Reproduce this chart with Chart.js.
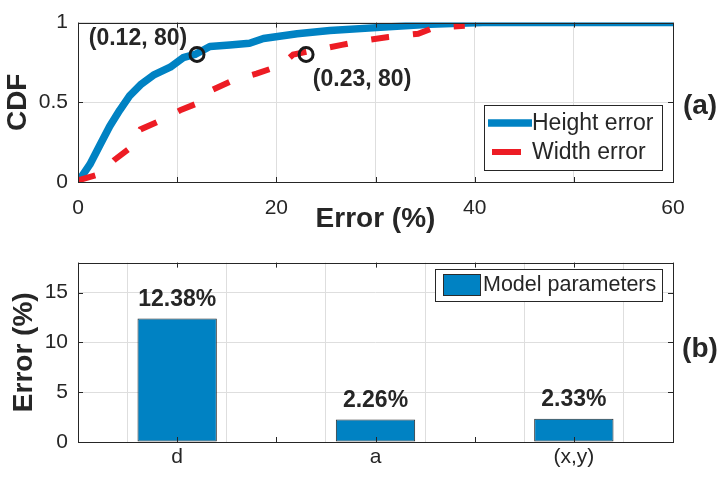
<!DOCTYPE html>
<html>
<head>
<meta charset="utf-8">
<script src="https://cdn.jsdelivr.net/npm/chart.js@4.4.0/dist/chart.umd.min.js"></script>
<style>
  html, body { margin: 0; padding: 0; background: #fff; }
  #wrap { position: relative; width: 718px; height: 485px; }
  #cdfC { position: absolute; left: 0; top: 0; }
  #barC { position: absolute; left: 0; top: 240px; }
</style>
</head>
<body>
<div id="wrap">
  <canvas id="cdfC" width="718" height="240"></canvas>
  <canvas id="barC" width="718" height="245"></canvas>
</div>
<script>
/* ── data: panel (a), CDF of height / width error ─────────────────────── */
const heightX = [0, 1.2, 2.2, 3.2, 4.2, 5.2, 6.3, 7.6, 9.3, 10.6, 11.8, 13.3, 15.3, 17.3, 18.7, 22.1, 25.4, 30.5, 35.5, 40.8, 60];
const heightY = [0, 0.11, 0.23, 0.35, 0.45, 0.54, 0.61, 0.67, 0.72, 0.78, 0.80, 0.85, 0.86, 0.87, 0.90, 0.93, 0.95, 0.97, 0.99, 1.0, 1.0];

const widthX = [0, 2.2, 3.7, 5.4, 6.3, 8.1, 10.3, 12.3, 13.6, 15.7, 18.0, 20.4, 21.7, 24.1, 26.6, 29.1, 31.3, 34.3, 36.0, 39.0];
const widthY = [0.01, 0.05, 0.14, 0.22, 0.33, 0.38, 0.45, 0.50, 0.58, 0.64, 0.68, 0.73, 0.80, 0.83, 0.86, 0.89, 0.91, 0.93, 0.97, 0.98];

const markX    = [12, 23];
const markY    = [0.8, 0.8];
const markText = ['(0.12, 80)', '(0.23, 80)'];

const cdfXTicks  = [0, 10, 20, 30, 40, 50, 60];
const cdfXLabels = [0, 20, 40, 60];
const cdfYTicks  = [0, 0.5, 1];

/* ── data: panel (b), model parameter error ───────────────────────────── */
const barCats   = ['d', 'a', '(x,y)'];
const barVals   = [12.38, 2.26, 2.33];
const barXTicks = [0.5, 1, 1.5, 2, 2.5, 3, 3.5];
const barYTicks = [0, 5, 10, 15];

/* ── style ────────────────────────────────────────────────────────────── */
const BLUE = '#0082C3';
const RED  = '#ED1C24';
const INK  = '#262626';
const GRID = '#dedede';
const FONT = '"Liberation Sans", Arial, Helvetica, sans-serif';

Chart.defaults.font.family = FONT;
Chart.defaults.color = INK;

/* box round the plot area with short inward ticks, as MATLAB draws it */
const framePlugin = {
  id: 'frame',
  afterDraw(chart) {
    const { ctx, chartArea: ca, scales } = chart;
    const tl = 5;
    ctx.save();
    ctx.strokeStyle = INK;
    ctx.lineWidth = 1;
    ctx.beginPath();
    scales.x.ticks.forEach(t => {
      const px = Math.round(scales.x.getPixelForValue(t.value)) + 0.5;
      ctx.moveTo(px, ca.bottom); ctx.lineTo(px, ca.bottom - tl);
      ctx.moveTo(px, ca.top);    ctx.lineTo(px, ca.top + tl);
    });
    scales.y.ticks.forEach(t => {
      const py = Math.round(scales.y.getPixelForValue(t.value)) + 0.5;
      ctx.moveTo(ca.left, py);  ctx.lineTo(ca.left + tl, py);
      ctx.moveTo(ca.right, py); ctx.lineTo(ca.right - tl, py);
    });
    ctx.stroke();
    ctx.strokeRect(Math.round(ca.left) + 0.5, Math.round(ca.top) + 0.5,
                   Math.round(ca.right - ca.left), Math.round(ca.bottom - ca.top));
    ctx.restore();
  }
};

function panelLabel(ctx, txt, x, y) {
  ctx.save();
  ctx.font = 'bold 28px ' + FONT;
  ctx.fillStyle = INK;
  ctx.textAlign = 'center';
  ctx.textBaseline = 'middle';
  ctx.fillText(txt, x, y);
  ctx.restore();
}

/* ── panel (a) extras: point notes, legend, label ─────────────────────── */
const cdfExtras = {
  id: 'cdfExtras',
  afterDraw(chart) {
    const { ctx, scales: { x, y } } = chart;
    const offs = [[-59, -16], [56, 25]];
    ctx.save();
    ctx.font = 'bold 23px ' + FONT;
    ctx.fillStyle = INK;
    ctx.textAlign = 'center';
    ctx.textBaseline = 'middle';
    markText.forEach((t, i) => {
      ctx.fillText(t, x.getPixelForValue(markX[i]) + offs[i][0], y.getPixelForValue(markY[i]) + offs[i][1]);
    });
    ctx.restore();

    /* legend box */
    const bx = 484, by = 105, bw = 178, bh = 65;
    ctx.save();
    ctx.fillStyle = '#fff';
    ctx.fillRect(bx, by, bw, bh);
    ctx.strokeStyle = INK;
    ctx.lineWidth = 1;
    ctx.strokeRect(bx + 0.5, by + 0.5, bw, bh);
    const rows = [by + 18, by + 47];
    chart.data.datasets.slice(0, 2).forEach((ds, i) => {
      ctx.strokeStyle = ds.borderColor;
      ctx.lineWidth = ds.borderWidth;
      ctx.lineCap = 'butt';
      ctx.beginPath();
      if (ds.borderDash) { ctx.moveTo(bx + 8, rows[i]); ctx.lineTo(bx + 37, rows[i]); }
      else { ctx.moveTo(bx + 4, rows[i]); ctx.lineTo(bx + 48, rows[i]); }
      ctx.stroke();
      ctx.font = '23px ' + FONT;
      ctx.fillStyle = INK;
      ctx.textBaseline = 'middle';
      ctx.textAlign = 'left';
      ctx.fillText(ds.label, bx + 48, rows[i] + 1);
    });
    ctx.restore();

    panelLabel(ctx, '(a)', 700, 106);
  }
};

new Chart(document.getElementById('cdfC'), {
  type: 'line',
  data: {
    datasets: [
      {
        label: 'Height error',
        data: heightX.map((v, i) => ({ x: v, y: heightY[i] })),
        borderColor: BLUE, borderWidth: 7.5, pointRadius: 0, tension: 0,
        borderJoinStyle: 'round', order: 2
      },
      {
        label: 'Width error',
        data: widthX.map((v, i) => ({ x: v, y: widthY[i] })),
        borderColor: RED, borderWidth: 6, borderDash: [18, 24], borderCapStyle: 'butt',
        pointRadius: 0, tension: 0, order: 1
      },
      {
        label: 'marks',
        data: markX.map((v, i) => ({ x: v, y: markY[i] })),
        showLine: false, pointRadius: 7, pointBorderWidth: 3,
        pointBorderColor: '#1a1a1a', pointBackgroundColor: 'rgba(0,0,0,0)', order: 0
      }
    ]
  },
  options: {
    responsive: false,
    animation: false,
    layout: { padding: { top: 13, right: 45, left: 0, bottom: 0 } },
    plugins: { legend: { display: false }, tooltip: { enabled: false } },
    scales: {
      x: {
        type: 'linear', min: 0, max: 60,
        afterBuildTicks: s => { s.ticks = cdfXTicks.map(v => ({ value: v })); },
        afterFit: s => { s.height = 58; },
        ticks: {
          autoSkip: false, maxRotation: 0, padding: 14,
          font: { size: 21 }, color: INK,
          callback: v => cdfXLabels.includes(v) ? String(v) : ''
        },
        grid: { color: GRID, drawTicks: false },
        border: { display: false },
        title: { display: true, text: 'Error (%)', color: INK, font: { size: 28, weight: 'bold' }, padding: { top: 0, bottom: 4 } }
      },
      y: {
        min: 0, max: 1,
        afterBuildTicks: s => { s.ticks = cdfYTicks.map(v => ({ value: v })); },
        afterFit: s => { s.width = 78; },
        ticks: { padding: 10, font: { size: 21 }, color: INK, callback: v => String(v) },
        grid: { color: GRID, drawTicks: false },
        border: { display: false },
        title: { display: true, text: 'CDF', color: INK, font: { size: 28, weight: 'bold' }, padding: { top: 1, bottom: 0 } }
      }
    }
  },
  plugins: [framePlugin, cdfExtras]
});

/* ── panel (b) extras: value labels, legend, label ────────────────────── */
const barExtras = {
  id: 'barExtras',
  afterDraw(chart) {
    const { ctx } = chart;
    const meta = chart.getDatasetMeta(0);
    ctx.save();
    ctx.font = 'bold 23px ' + FONT;
    ctx.fillStyle = INK;
    ctx.textAlign = 'center';
    ctx.textBaseline = 'middle';
    meta.data.forEach((el, i) => {
      ctx.fillText(barVals[i].toFixed(2) + '%', el.x, el.y - 19);
    });

    const bx = 435, by = 29, bw = 227, bh = 32;
    ctx.fillStyle = '#fff';
    ctx.fillRect(bx, by, bw, bh);
    ctx.strokeStyle = INK;
    ctx.lineWidth = 1;
    ctx.strokeRect(bx + 0.5, by + 0.5, bw, bh);
    const ds = chart.data.datasets[0];
    ctx.fillStyle = ds.backgroundColor;
    ctx.fillRect(bx + 8, by + 5, 37, 21);
    ctx.strokeStyle = ds.borderColor;
    ctx.strokeRect(bx + 8.5, by + 5.5, 37, 21);
    ctx.font = '21.5px ' + FONT;
    ctx.fillStyle = INK;
    ctx.textAlign = 'left';
    ctx.fillText(ds.label, bx + 48, by + 16);
    ctx.restore();

    panelLabel(ctx, '(b)', 700, 109);
  }
};

new Chart(document.getElementById('barC'), {
  type: 'bar',
  data: {
    datasets: [{
      label: 'Model parameters',
      data: barVals.map((v, i) => ({ x: i + 1, y: v })),
      backgroundColor: BLUE,
      borderColor: '#2b2b2b',
      borderWidth: 1,
      borderSkipped: false,
      categoryPercentage: 1,
      barPercentage: 0.8
    }]
  },
  options: {
    responsive: false,
    animation: false,
    layout: { padding: { top: 16, right: 45, left: 0, bottom: 0 } },
    plugins: { legend: { display: false }, tooltip: { enabled: false } },
    scales: {
      x: {
        type: 'linear', min: 0.5, max: 3.5, offset: false,
        afterBuildTicks: s => { s.ticks = barXTicks.map(v => ({ value: v })); },
        afterFit: s => { s.height = 43; },
        ticks: {
          autoSkip: false, maxRotation: 0, padding: 3,
          font: { size: 21 }, color: INK,
          callback: v => Number.isInteger(v) ? barCats[v - 1] : ''
        },
        grid: { color: GRID, drawTicks: false },
        border: { display: false }
      },
      y: {
        min: 0, max: 18,
        afterBuildTicks: s => { s.ticks = barYTicks.map(v => ({ value: v })); },
        afterFit: s => { s.width = 78; },
        ticks: { padding: 10, font: { size: 21 }, color: INK },
        grid: { color: GRID, drawTicks: false },
        border: { display: false },
        title: { display: true, text: 'Error (%)', color: INK, font: { size: 28, weight: 'bold' }, padding: { top: 7, bottom: 0 } }
      }
    }
  },
  plugins: [framePlugin, barExtras]
});
</script>
</body>
</html>
